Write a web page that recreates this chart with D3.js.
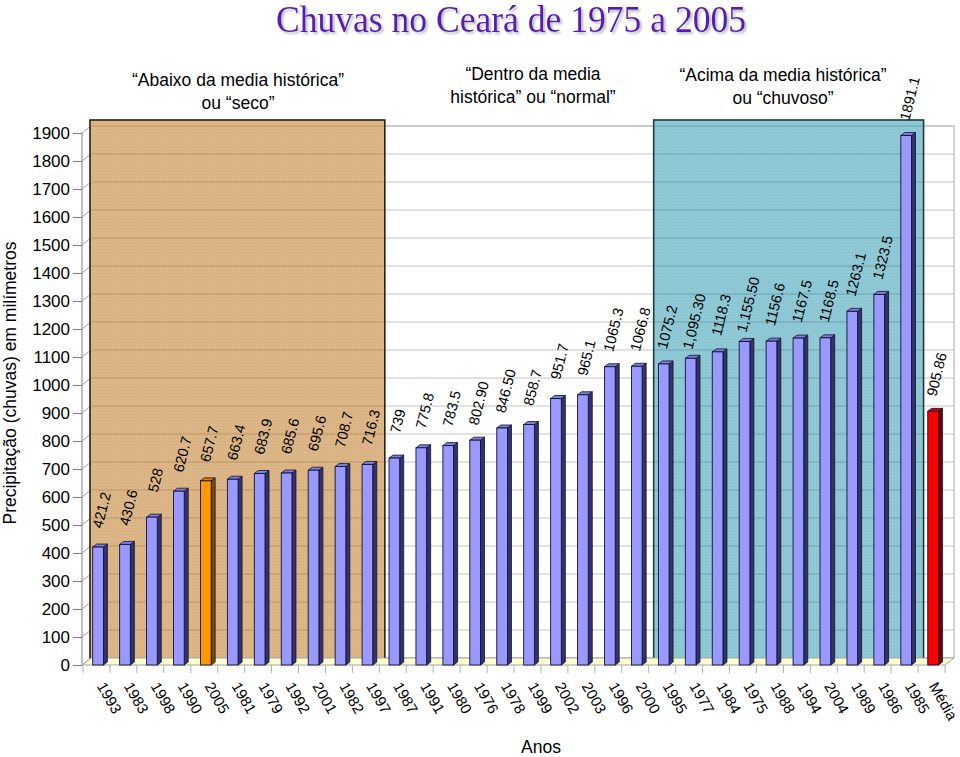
<!DOCTYPE html>
<html><head><meta charset="utf-8">
<script src="https://cdn.jsdelivr.net/npm/d3@7"></script>
<style>
html,body{margin:0;padding:0;background:#fff;}
text{font-family:Arial,"Liberation Sans",sans-serif;}
text.serif{font-family:"Times New Roman","Liberation Serif",serif;}
</style></head>
<body>
<svg id="chart" width="960" height="757"></svg>
<script>
const categories = ["1993","1983","1998","1990","2005","1981","1979","1992","2001","1982","1997","1987","1991","1980","1976","1978","1999","2002","2003","1996","2000","1995","1977","1984","1975","1988","1994","2004","1989","1986","1985","Média"];
const values = [421.2,430.6,528,620.7,657.7,663.4,683.9,685.6,695.6,708.7,716.3,739,775.8,783.5,802.9,846.5,858.7,951.7,965.1,1065.3,1066.8,1075.2,1095.3,1118.3,1155.5,1156.6,1167.5,1168.5,1263.1,1323.5,1891.1,905.86];
const valueLabels = ["421.2","430.6","528","620.7","657.7","663.4","683.9","685.6","695.6","708.7","716.3","739","775.8","783.5","802.90","846.50","858.7","951.7","965.1","1065.3","1066.8","1075.2","1,095.30","1118.3","1,155.50","1156.6","1167.5","1168.5","1263.1","1323.5","1891.1","905.86"];
const yTickValues = [0,100,200,300,400,500,600,700,800,900,1000,1100,1200,1300,1400,1500,1600,1700,1800,1900];
const title = "Chuvas no Ceará de 1975 a 2005";
const yTitle = "Precipitação (chuvas) em milímetros";
const xTitle = "Anos";
const groups = [
  {first:"1993", last:"1997", lines:["“Abaixo da media histórica”","ou “seco”"], fill:"#DCB686", stroke:"#2e2010", line:"rgba(110,70,20,0.28)"},
  {first:"1995", last:"1985", lines:["“Acima da media histórica”","ou “chuvoso”"], fill:"#8FC9D5", stroke:"#1c3a44", line:"rgba(20,70,90,0.28)"}
];
const middleNote = ["“Dentro da media","histórica” ou “normal”"];
const highlight = {"2005":["#FF9900","#7a4800","#d98200"], "Média":["#FF0000","#7a0000","#cc0000"]};
const baseColors = ["#9999FF","#33336b","#7f7fdc"];

const svg = d3.select("#chart");
const defs = svg.append("defs");
const f = defs.append("filter").attr("id","shadow").attr("x","-5%").attr("y","-20%").attr("width","115%").attr("height","150%");
f.append("feDropShadow").attr("dx",2).attr("dy",2).attr("stdDeviation",0.8).attr("flood-color","#aaaaaa").attr("flood-opacity",0.8);
const pat1 = defs.append("pattern").attr("id","dots1").attr("width",3).attr("height",3).attr("patternUnits","userSpaceOnUse");
pat1.append("rect").attr("width",3).attr("height",3).attr("fill","#DCB686");
pat1.append("rect").attr("width",1).attr("height",1).attr("fill","#d2ab7a");
const pat2 = defs.append("pattern").attr("id","dots2").attr("width",3).attr("height",3).attr("patternUnits","userSpaceOnUse");
pat2.append("rect").attr("width",3).attr("height",3).attr("fill","#8FC9D5");
pat2.append("rect").attr("width",1).attr("height",1).attr("fill","#84bfcb");
const patIds = ["url(#dots1)","url(#dots2)"];

const x = d3.scaleBand().domain(categories).range([83,945]).padding(0);
const y = d3.scaleLinear().domain([0,1900]).range([665,133]);
const WX = 9, WY = -7;          // back wall offset
const BX = 4, BY = -3;          // bar depth
const bw = x.bandwidth();

// left wall and back wall
svg.append("polygon").attr("points",[[82,y(1900)],[82+WX,y(1900)+WY],[82+WX,y(0)+WY],[82,y(0)]].join(" ")).attr("fill","#fff");
svg.append("rect").attr("x",82+WX).attr("y",y(1900)+WY).attr("width",945+WX-(82+WX)).attr("height",y(0)-y(1900)).attr("fill","#fff").attr("stroke","#a6a6a6");

// gridlines
const grid = svg.append("g");
yTickValues.forEach(v=>{
  grid.append("line").attr("x1",82).attr("y1",y(v)).attr("x2",82+WX).attr("y2",y(v)+WY).attr("stroke","#a0a0a0");
  grid.append("line").attr("x1",82+WX).attr("y1",y(v)+WY).attr("x2",945+WX).attr("y2",y(v)+WY).attr("stroke","#c4c4c4");
});

// group rectangles
groups.forEach((g,i)=>{
  const x0 = i===0 ? 82+WX-1 : x(g.first)+5;
  const x1 = x(g.last)+bw+5.5;
  const top = 120, bot = y(0)+WY+1;
  svg.append("rect").attr("x",x0).attr("y",top).attr("width",x1-x0).attr("height",bot-top)
    .attr("fill",patIds[i]).attr("stroke",g.stroke).attr("stroke-width",1.6);
  yTickValues.filter(v=>v>0).forEach(v=>{
    svg.append("line").attr("x1",x0+1).attr("x2",x1-1).attr("y1",y(v)+WY).attr("y2",y(v)+WY).attr("stroke",g.line);
  });
  const cx = i===0 ? 238 : 783;
  const base = i===0 ? 86 : 81;
  g.lines.forEach((t,k)=>{
    svg.append("text").attr("x",cx).attr("y",base+k*23).attr("text-anchor","middle").attr("font-size",17.5).attr("fill","#000").text(t);
  });
});
middleNote.forEach((t,k)=>{
  svg.append("text").attr("x",533).attr("y",80+k*23).attr("text-anchor","middle").attr("font-size",17.5).attr("fill","#000").text(t);
});

// floor
svg.append("polygon").attr("points",[[82,y(0)],[82+WX,y(0)+WY],[945+WX,y(0)+WY],[945,y(0)]].join(" "))
  .attr("fill","#FFFFD0").attr("stroke","#a6a6a6");

// y axis
svg.append("line").attr("x1",82).attr("x2",82).attr("y1",y(1900)).attr("y2",y(0)).attr("stroke","#808080");
const yAxis = d3.axisLeft(y).tickValues(yTickValues).tickSize(9).tickPadding(3).tickFormat(d3.format("d"));
const ya = svg.append("g").attr("transform","translate(82,0)").call(yAxis);
ya.select(".domain").remove();
ya.selectAll(".tick line").attr("stroke","#808080");
ya.selectAll(".tick text").attr("font-size",17).attr("fill","#000").style("font-family","Arial, 'Liberation Sans', sans-serif");

// x ticks
const xb = categories.map(c=>x(c)).concat([945]);
xb.forEach(b=>{
  svg.append("line").attr("x1",b).attr("x2",b).attr("y1",y(0)).attr("y2",y(0)+8).attr("stroke","#b0b0b0");
});

// bars
const bars = svg.append("g");
categories.forEach((c,i)=>{
  const v = values[i];
  const col = highlight[c] || baseColors;
  const fx = x(c)+9.7, fw = 10.7, top = y(v), bot = y(0);
  bars.append("polygon").attr("points",[[fx+fw,top],[fx+fw+BX,top+BY],[fx+fw+BX,bot+BY],[fx+fw,bot]].join(" "))
    .attr("fill",col[1]).attr("stroke","#111133").attr("stroke-width",0.8);
  bars.append("polygon").attr("points",[[fx,top],[fx+BX,top+BY],[fx+fw+BX,top+BY],[fx+fw,top]].join(" "))
    .attr("fill",col[2]).attr("stroke","#111133").attr("stroke-width",0.8);
  bars.append("rect").attr("x",fx).attr("y",top).attr("width",fw).attr("height",bot-top)
    .attr("fill",col[0]).attr("stroke","#111133").attr("stroke-width",0.9);
  // value label
  const lx = fx+fw/2+3.5, ly = top-37;
  svg.append("text").attr("transform",`translate(${lx},${ly}) rotate(-76)`)
    .attr("text-anchor","middle").attr("dy","0.35em").attr("font-size",14.5).attr("fill","#000").text(valueLabels[i]);
  // category label
  const cx = x(c)+bw/2 - (i===categories.length-1 ? 3 : 0);
  svg.append("text").attr("transform",`translate(${cx},686) rotate(60)`)
    .attr("text-anchor","start").attr("font-size",15).attr("fill","#000").text(c);
});

// titles
svg.append("text").attr("class","serif").attr("x",511).attr("y",32).attr("text-anchor","middle").attr("font-size",37)
  .attr("fill","#5a1eb0").attr("filter","url(#shadow)")
  .attr("textLength",470).attr("lengthAdjust","spacingAndGlyphs").text(title);

svg.append("text").attr("transform","translate(16,383) rotate(-90)").attr("text-anchor","middle")
  .attr("font-size",17.5).attr("fill","#000").text(yTitle);
svg.append("text").attr("x",541).attr("y",753).attr("text-anchor","middle").attr("font-size",17.5).attr("fill","#000").text(xTitle);
</script>
</body></html>
